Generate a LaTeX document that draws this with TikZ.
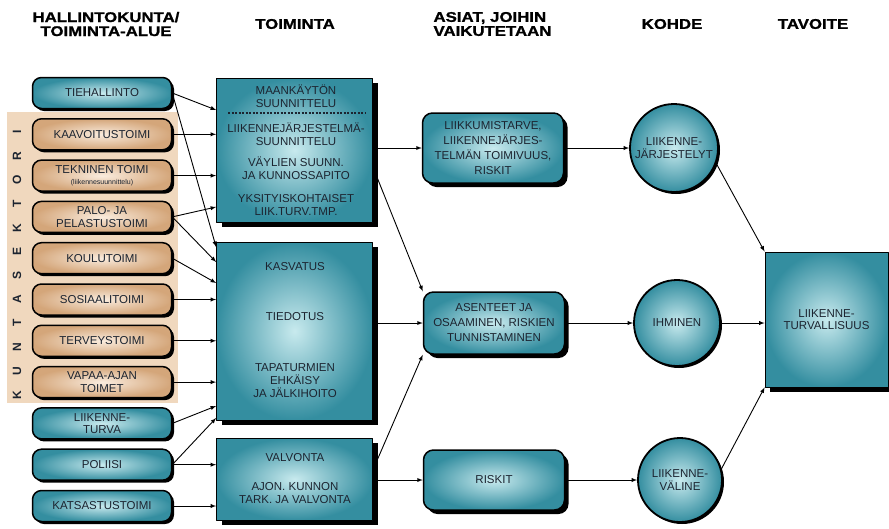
\documentclass[tikz,border=0pt]{standalone}
\usepackage{fontspec}
\setmainfont{Liberation Sans}
\newfontfamily\headfont[FakeStretch=1.2,BoldFeatures={FakeBold=1.2}]{Liberation Sans}
\usetikzlibrary{shadows}
\definecolor{tealdark}{RGB}{52,142,160}
\definecolor{teallight}{RGB}{200,234,238}
\definecolor{tandark}{RGB}{212,166,122}
\definecolor{tanlight}{RGB}{250,236,222}
\definecolor{tanback}{RGB}{240,216,190}
\definecolor{encre}{RGB}{28,36,48}
\tikzset{
  boite/.style={draw=black,line width=1.5pt,inner color=teallight,outer color=tealdark,
    align=center,text=encre,inner sep=1pt,font=\fontsize{11.5}{12.5}\selectfont},
  bleu/.style={boite,rounded corners=9pt,minimum width=139pt,minimum height=31pt,
    drop shadow={shadow xshift=2.5pt,shadow yshift=-2.5pt,fill=black,opacity=1}},
  beige/.style={bleu,inner color=tanlight,outer color=tandark},
  grande/.style={boite,line width=0.8pt,minimum width=156pt,
    drop shadow={shadow xshift=5pt,shadow yshift=-5pt,fill=black,opacity=1}},
  asia/.style={boite,rounded corners=10pt,minimum width=141pt,font=\fontsize{11.5}{15}\selectfont,
    drop shadow={shadow xshift=4pt,shadow yshift=-4pt,fill=black,opacity=1}},
  kohde/.style={boite,circle,line width=1.8pt,
    drop shadow={shadow xshift=2pt,shadow yshift=-2pt,fill=black,opacity=1}},
  titre/.style={align=center,font=\headfont\bfseries\fontsize{14}{14}\selectfont},
  texte/.style={align=center,text=encre,font=\fontsize{11.5}{13}\selectfont},
  sektori/.style={rotate=90,text=encre,font=\bfseries\fontsize{12}{12}\selectfont},
  erotin/.style={encre,line width=1.4pt,dash pattern=on 2pt off 1.5pt},
  fleche/.style={->,line width=0.9pt},
}
\begin{document}
\begin{tikzpicture}[x=1pt,y=-1pt,>=latex,line join=bevel]
\useasboundingbox (0,0) rectangle (889,528);
%titres
\node[titre] (t1) at (106,24) {HALLINTOKUNTA/\\TOIMINTA-ALUE};
\node[titre] (t2) at (295,24) {TOIMINTA};
\node[titre,align=left,anchor=west] (t3) at (430,24) {ASIAT, JOIHIN\\VAIKUTETAAN};
\node[titre] (t4) at (672,24) {KOHDE};
\node[titre] (t5) at (813,24) {TAVOITE};
%kuntasektori
\fill[tanback] (7,112) rectangle (178,403);
\foreach \Lettre [count=\i from 0] in {K,U,N,T,A,S,E,K,T,O,R,I}
  \node[sektori] (ks\i) at (17,395-23.9*\i) {\Lettre};
%hallintokunnat
\foreach \Nom/\Texte/\Style [count=\i from 0] in {tieh/TIEHALLINTO/bleu,kaav/KAAVOITUSTOIMI/beige,
    tekn/{TEKNINEN TOIMI\\[-2pt]{\fontsize{7}{7}\selectfont(liikennesuunnittelu)}}/beige,
    palo/{PALO- JA\\PELASTUSTOIMI}/beige,koulu/KOULUTOIMI/beige,sosi/SOSIAALITOIMI/beige,
    terv/TERVEYSTOIMI/beige,vapaa/{VAPAA-AJAN\\TOIMET}/beige,lturva/{LIIKENNE-\\TURVA}/bleu,
    poliisi/POLIISI/bleu,katsas/KATSASTUSTOIMI/bleu}
  \node[\Style] (\Nom) at (102,93+41.3*\i) {\Texte};
%toiminta
\node[grande,minimum height=144pt] (toim1) at (294.5,150) {};
\node[grande,minimum height=178pt] (toim2) at (294.5,331) {};
\node[grande,minimum height=82pt] (toim3) at (294.5,479) {};
\node[texte] (maank) at (296,96) {MAANKÄYTÖN\\SUUNNITTELU};
\draw[erotin] (228,113) -- (365,113);
\node[texte] (ljs) at (296,134) {LIIKENNEJÄRJESTELMÄ-\\SUUNNITTELU};
\node[texte] (vayl) at (296,168) {VÄYLIEN SUUNN.\\JA KUNNOSSAPITO};
\node[texte] (yksit) at (296,205) {YKSITYISKOHTAISET\\LIIK.TURV.TMP.};
\node[texte] (kasv) at (295,267) {KASVATUS};
\node[texte] (tied) at (295,317) {TIEDOTUS};
\node[texte] (tapat) at (295,381) {TAPATURMIEN\\EHKÄISY\\JA JÄLKIHOITO};
\node[texte] (valv) at (295,458) {VALVONTA};
\node[texte] (ajon) at (295,493) {AJON. KUNNON\\TARK. JA VALVONTA};
%asiat
\node[asia,minimum height=70pt] (asia1) at (493,148) {LIIKKUMISTARVE,\\LIIKENNEJÄRJES-\\TELMÄN TOIMIVUUS,\\RISKIT};
\node[asia,minimum height=62pt] (asia2) at (494,323) {ASENTEET JA\\OSAAMINEN, RISKIEN\\TUNNISTAMINEN};
\node[asia,minimum height=60pt] (asia3) at (494,480) {RISKIT};
%kohde
\node[kohde,minimum size=88pt] (koh1) at (674,148) {LIIKENNE-\\JÄRJESTELYT};
\node[kohde,minimum size=86pt] (koh2) at (677,323) {IHMINEN};
\node[kohde,minimum size=84pt] (koh3) at (680,480) {LIIKENNE-\\VÄLINE};
%tavoite
\node[grande,minimum width=123pt,minimum height=135pt] (tav) at (826.5,319.5) {LIIKENNE-\\TURVALLISUUS};
%nuolet
\draw[fleche] (tieh.east) -- (toim1.west |- 0,110);
\draw[fleche] (tieh.east) -- (toim2.west |- 0,247);
\draw[fleche] (kaav.east) -- (toim1.west |- kaav.east);
\draw[fleche] (tekn.east) -- (toim1.west |- tekn.east);
\draw[fleche] (palo.east) -- (toim1.west |- 0,207);
\draw[fleche] (palo.east) -- (toim2.west |- 0,262);
\draw[fleche] (koulu.east) -- (toim2.west |- 0,283);
\draw[fleche] (sosi.east) -- (toim2.west |- sosi.east);
\draw[fleche] (terv.east) -- (toim2.west |- terv.east);
\draw[fleche] (vapaa.east) -- (toim2.west |- vapaa.east);
\draw[fleche] (lturva.east) -- (toim2.west |- 0,406);
\draw[fleche] (poliisi.east) -- (toim2.west |- 0,418);
\draw[fleche] (poliisi.east) -- (toim3.west |- poliisi.east);
\draw[fleche] (katsas.east) -- (toim3.west |- katsas.east);
\draw[fleche] (toim1.east |- asia1.west) -- (asia1.west);
\draw[fleche] (toim1.east |- 0,167) -- (asia2.north west);
\draw[fleche] (toim2.east |- asia2.west) -- (asia2.west);
\draw[fleche] (toim3.east |- 0,470) -- (asia2.south west);
\draw[fleche] (toim3.east |- asia3.west) -- (asia3.west);
\draw[fleche] (asia1) -- (koh1);
\draw[fleche] (asia2) -- (koh2);
\draw[fleche] (asia3) -- (koh3);
\draw[fleche] (koh1.-20) -- (tav.north west);
\draw[fleche] (koh2.east) -- (koh2.east -| tav.west);
\draw[fleche] (koh3.15) -- (tav.south west);
\end{tikzpicture}
\end{document}
